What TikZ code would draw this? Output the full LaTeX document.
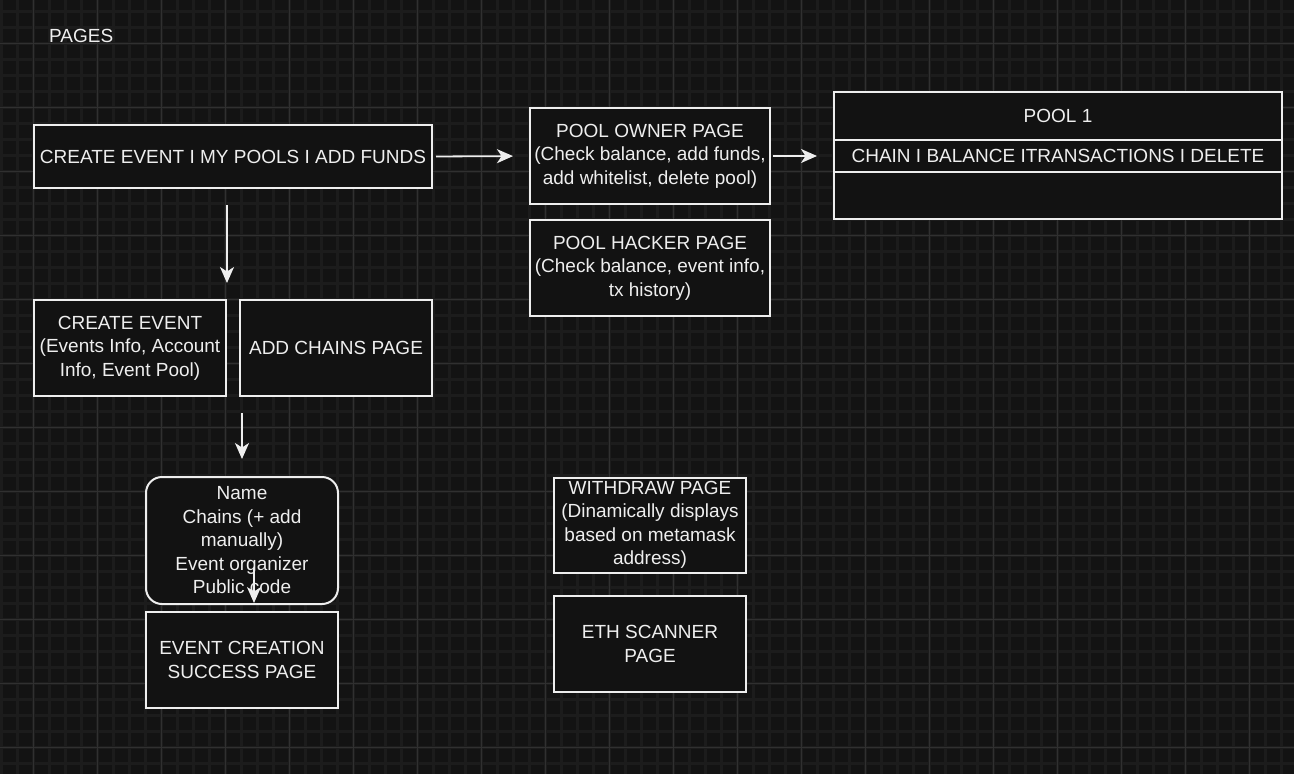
\documentclass[tikz,border=0pt]{standalone}
\usepackage{fontspec}
\setmainfont{Liberation Sans}
\usetikzlibrary{arrows.meta}
\definecolor{bgc}{HTML}{131313}
\definecolor{boxc}{HTML}{121212}
\definecolor{minorc}{HTML}{1C1C1C}
\definecolor{majorc}{HTML}{303030}
\definecolor{fgc}{HTML}{EEEEEE}
\tikzset{
  page/.style={draw=fgc,fill=boxc,line width=2pt,text=fgc,align=center,inner sep=0pt},
  arr/.style={draw=fgc,line width=1.8pt,-{Stealth[length=16pt,width=14pt,inset=4.5pt]}}
}
\begin{document}
\begin{tikzpicture}[x=1pt,y=-1pt,font=\fontsize{19}{23.5}\selectfont]
\useasboundingbox (0,0) rectangle (1294,774);
\fill[bgc] (0,0) rectangle (1294,774);
% grid
\foreach \i in {0,...,80}
  \draw[minorc,line width=2.5pt] (1.3+16*\i,0) -- (1.3+16*\i,774);
\foreach \i in {0,...,48}
  \draw[minorc,line width=2.5pt] (0,11.5+16*\i) -- (1294,11.5+16*\i);
\foreach \i in {0,...,19}
  \draw[majorc,line width=1.2pt] (33.3+64*\i,0) -- (33.3+64*\i,774);
\foreach \i in {0,...,11}
  \draw[majorc,line width=1.2pt] (0,43.5+64*\i) -- (1294,43.5+64*\i);

\node[text=fgc,anchor=west,inner sep=0pt] (pages) at (49,36) {PAGES};

\node[page,minimum width=398pt,minimum height=63pt] (menu) at (233,156.5)
  {CREATE EVENT I MY POOLS I ADD FUNDS};
\node[page,minimum width=240pt,minimum height=96pt] (owner) at (650,156)
  {POOL OWNER PAGE\\(Check balance, add funds,\\add whitelist, delete pool)};
\node[page,minimum width=240pt,minimum height=96pt] (hacker) at (650,268)
  {POOL HACKER PAGE\\(Check balance, event info,\\tx history)};

% pool table
\node[page,minimum width=448pt,minimum height=48pt] (pooltitle) at (1058,116) {POOL 1};
\node[page,minimum width=448pt,minimum height=32pt] (poolrow) at (1058,156)
  {CHAIN I BALANCE ITRANSACTIONS I DELETE};
\node[page,minimum width=448pt,minimum height=47pt] (poolbody) at (1058,195.5) {};

\node[page,minimum width=192pt,minimum height=96pt] (create) at (130,348)
  {CREATE EVENT\\(Events Info, Account\\Info, Event Pool)};
\node[page,minimum width=192pt,minimum height=96pt] (chains) at (336,348)
  {ADD CHAINS PAGE};
\node[page,rounded corners=16pt,minimum width=192pt,minimum height=127pt] (form) at (242,540.5)
  {Name\\Chains (+ add\\manually)\\Event organizer\\Public code};
\node[page,minimum width=192pt,minimum height=96pt] (success) at (242,660)
  {EVENT CREATION\\SUCCESS PAGE};
\node[page,minimum width=192pt,minimum height=95pt] (withdraw) at (650,525)
  {WITHDRAW PAGE\\(Dinamically displays\\based on metamask\\address)};
\node[page,minimum width=192pt,minimum height=96pt] (scanner) at (650,644)
  {ETH SCANNER\\PAGE};

% arrows
\draw[arr,shorten <=3pt,shorten >=16pt] (menu.east) -- (owner.west);
\draw[arr,shorten <=2pt,shorten >=16pt] (owner.east) -- (pooltitle.west |- owner.east);
\draw[arr,shorten <=16pt,shorten >=16pt] (create.north east |- menu.south) -- (create.north east);
\draw[arr,shorten <=16pt,shorten >=17pt] (form.north |- create.south) -- (form.north);
\draw[arr,shorten >=8pt] ([xshift=12pt,yshift=37pt]form.south) -- ([xshift=12pt]success.north);
\end{tikzpicture}
\end{document}
